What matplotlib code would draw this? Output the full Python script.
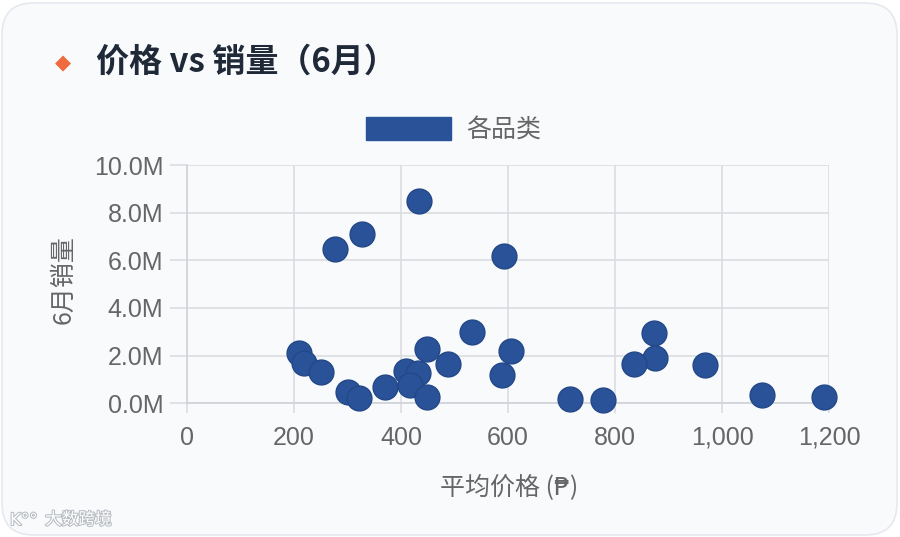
import matplotlib
matplotlib.use("Agg")
import matplotlib.pyplot as plt
from matplotlib.patches import FancyBboxPatch, Patch
from matplotlib.ticker import FuncFormatter, MultipleLocator
import matplotlib.patheffects as pe

plt.rcParams['font.family'] = ['Liberation Sans', 'Noto Sans CJK SC', 'DejaVu Sans']

# ---- data ----
title = "价格 vs 销量（6月）"
series_name = "各品类"
x_label = "平均价格 (₱)"
y_label = "6月销量"
avg_price = [434, 328, 277, 592, 532, 448, 606, 209, 218, 251, 488, 409, 432, 417,
             589, 371, 300, 321, 449, 872, 875, 835, 968, 716, 778, 1075, 1191]
sales_june = [8.49e6, 7.09e6, 6.48e6, 6.19e6, 2.99e6, 2.29e6, 2.18e6, 2.10e6, 1.68e6,
              1.30e6, 1.65e6, 1.34e6, 1.26e6, 0.77e6, 1.17e6, 0.70e6, 0.46e6, 0.22e6,
              0.28e6, 2.94e6, 1.90e6, 1.65e6, 1.59e6, 0.19e6, 0.13e6, 0.34e6, 0.26e6]

W, H = 900, 537
fig = plt.figure(figsize=(W / 100, H / 100), dpi=100)
fig.patch.set_facecolor('white')

# card background
card = FancyBboxPatch((2 / W, 2 / H), (W - 5) / W, (H - 5) / H,
                      boxstyle="round,pad=0,rounding_size=0.035",
                      transform=fig.transFigure, facecolor='#F8FAFC',
                      edgecolor='#E5E8EE', linewidth=1.2, zorder=-10,
                      mutation_aspect=W / H)
fig.patches.append(card)

# title with diamond
fig.text(63 / W, 1 - 63 / H, "◆", color='#EF6A3E', fontsize=15,
         ha='center', va='center', family=['DejaVu Sans'])
fig.text(96 / W, 1 - 62 / H, title, color='#1F2937', fontsize=23.8,
         fontweight='bold', ha='left', va='center',
         family=['Noto Sans CJK SC', 'DejaVu Sans'])

ax = fig.add_axes([187 / W, 1 - 403.3 / H, (829 - 187) / W, (403.3 - 165) / H])
ax.patch.set_alpha(0)

color = '#2A5298'
ax.scatter(avg_price, sales_june, s=320, color=color, edgecolor='#234887',
           linewidth=1, zorder=3, label=series_name, clip_on=False)

ax.set_xlim(0, 1200)
ax.set_ylim(0, 10e6)
ax.xaxis.set_major_locator(MultipleLocator(200))
ax.yaxis.set_major_locator(MultipleLocator(2e6))
ax.xaxis.set_major_formatter(FuncFormatter(lambda v, p: f"{int(v):,}"))
ax.yaxis.set_major_formatter(FuncFormatter(lambda v, p: f"{v / 1e6:.1f}M"))

grid_c = '#DADCE0'
ax.grid(True, color=grid_c, linewidth=1.2, zorder=0)
ax.set_axisbelow(True)
for s in ['top', 'right']:
    ax.spines[s].set_visible(False)
for s in ['left', 'bottom']:
    ax.spines[s].set_color('#CFD2D6')
    ax.spines[s].set_linewidth(1.2)
ax.tick_params(axis='y', length=12, width=1.2, color=grid_c, pad=5,
               labelsize=18, labelcolor='#666666')
ax.tick_params(axis='x', length=7, width=1.2, color=grid_c, pad=9,
               labelsize=18, labelcolor='#666666')

# axis titles
fig.text(509 / W, 1 - 487 / H, x_label, color='#666666', fontsize=18,
         ha='center', va='center', family=['Noto Sans CJK SC', 'DejaVu Sans'])
fig.text(63 / W, 1 - 280 / H, y_label, color='#666666', fontsize=18,
         ha='center', va='center', rotation=90,
         family=['Noto Sans CJK SC', 'DejaVu Sans'])

# legend
leg = ax.legend(handles=[Patch(facecolor=color, edgecolor=color, label=series_name)],
                loc='center', bbox_to_anchor=(453.5 / W, 1 - 130 / H),
                bbox_transform=fig.transFigure, frameon=False, borderpad=0,
                handlelength=3.4, handleheight=1.0, handletextpad=0.6,
                prop={'family': ['Noto Sans CJK SC', 'DejaVu Sans'], 'size': 18})
for t in leg.get_texts():
    t.set_color('#666666')

# watermark
fig.text(45 / W, 1 - 520 / H, "大数跨境", color='white', fontsize=12,
         ha='left', va='center', family=['Noto Sans CJK SC', 'DejaVu Sans'],
         path_effects=[pe.withStroke(linewidth=1.5, foreground='#B8BCC2')])
fig.text(10 / W, 1 - 520 / H, "K°°", color='white', fontsize=12,
         ha='left', va='center', family=['DejaVu Sans'],
         path_effects=[pe.withStroke(linewidth=1.5, foreground='#B8BCC2')])

fig.savefig("out.png", dpi=100, facecolor=fig.get_facecolor())
